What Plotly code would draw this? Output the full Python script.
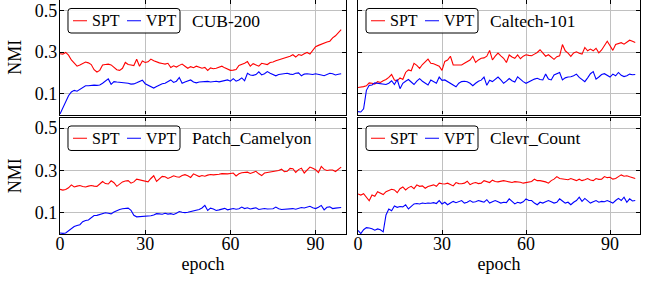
import plotly.graph_objects as go

epochs = list(range(100))

datasets = ["CUB-200", "Caltech-101", "Patch_Camelyon", "Clevr_Count"]
series_names = ["SPT", "VPT"]

cub_spt = [0.292, 0.290, 0.298, 0.285, 0.262, 0.245, 0.232, 0.238, 0.245, 0.252,
           0.248, 0.240, 0.215, 0.204, 0.212, 0.238, 0.240, 0.242, 0.238, 0.228,
           0.215, 0.212, 0.222, 0.250, 0.240, 0.238, 0.235, 0.265, 0.232, 0.257,
           0.250, 0.253, 0.266, 0.258, 0.252, 0.248, 0.245, 0.242, 0.246, 0.226,
           0.234, 0.228, 0.236, 0.242, 0.232, 0.222, 0.230, 0.225, 0.232, 0.228,
           0.222, 0.226, 0.212, 0.224, 0.220, 0.222, 0.226, 0.232, 0.224, 0.216,
           0.212, 0.213, 0.216, 0.236, 0.240, 0.246, 0.254, 0.232, 0.244, 0.238,
           0.232, 0.246, 0.242, 0.240, 0.250, 0.252, 0.258, 0.262, 0.266, 0.270,
           0.274, 0.280, 0.287, 0.276, 0.288, 0.284, 0.292, 0.298, 0.290, 0.310,
           0.326, 0.332, 0.338, 0.342, 0.348, 0.352, 0.368, 0.378, 0.395, 0.408]
cub_vpt = [0.002, 0.030, 0.062, 0.090, 0.108, 0.116, 0.112, 0.120, 0.132, 0.138,
           0.138, 0.140, 0.141, 0.140, 0.142, 0.150, 0.162, 0.171, 0.145, 0.158,
           0.156, 0.155, 0.154, 0.153, 0.150, 0.146, 0.147, 0.152, 0.158, 0.165,
           0.148, 0.140, 0.134, 0.127, 0.134, 0.140, 0.148, 0.150, 0.160, 0.166,
           0.154, 0.160, 0.178, 0.150, 0.156, 0.160, 0.166, 0.156, 0.152, 0.156,
           0.158, 0.157, 0.159, 0.156, 0.158, 0.160, 0.157, 0.159, 0.162, 0.166,
           0.160, 0.172, 0.160, 0.166, 0.176, 0.162, 0.198, 0.190, 0.188, 0.192,
           0.205, 0.190, 0.196, 0.206, 0.198, 0.190, 0.186, 0.192, 0.194, 0.196,
           0.198, 0.194, 0.192, 0.198, 0.200, 0.186, 0.194, 0.196, 0.194, 0.192,
           0.196, 0.194, 0.190, 0.186, 0.194, 0.198, 0.196, 0.190, 0.193, 0.196]
caltech_spt = [0.130, 0.131, 0.134, 0.138, 0.152, 0.150, 0.146, 0.158, 0.154, 0.162,
               0.168, 0.178, 0.192, 0.166, 0.162, 0.176, 0.168, 0.202, 0.214, 0.210,
               0.246, 0.236, 0.222, 0.240, 0.252, 0.266, 0.246, 0.244, 0.238, 0.232,
               0.212, 0.255, 0.262, 0.280, 0.238, 0.238, 0.240, 0.238, 0.246, 0.255,
               0.262, 0.280, 0.250, 0.262, 0.270, 0.272, 0.280, 0.308, 0.262, 0.280,
               0.295, 0.282, 0.270, 0.250, 0.286, 0.276, 0.270, 0.286, 0.268, 0.280,
               0.287, 0.284, 0.282, 0.290, 0.298, 0.311, 0.296, 0.280, 0.287, 0.276,
               0.265, 0.278, 0.282, 0.336, 0.306, 0.295, 0.279, 0.296, 0.301, 0.294,
               0.290, 0.322, 0.306, 0.314, 0.306, 0.318, 0.296, 0.310, 0.330, 0.352,
               0.330, 0.308, 0.336, 0.340, 0.345, 0.338, 0.348, 0.357, 0.352, 0.346]
caltech_vpt = [0.014, 0.012, 0.027, 0.116, 0.140, 0.142, 0.152, 0.150, 0.150, 0.146,
               0.144, 0.150, 0.162, 0.144, 0.168, 0.124, 0.150, 0.160, 0.168, 0.156,
               0.144, 0.160, 0.172, 0.160, 0.150, 0.142, 0.166, 0.158, 0.150, 0.180,
               0.164, 0.166, 0.158, 0.146, 0.138, 0.133, 0.150, 0.158, 0.160, 0.157,
               0.150, 0.138, 0.150, 0.160, 0.165, 0.180, 0.140, 0.165, 0.158, 0.170,
               0.180, 0.166, 0.150, 0.160, 0.173, 0.162, 0.156, 0.181, 0.168, 0.158,
               0.150, 0.158, 0.165, 0.170, 0.174, 0.168, 0.166, 0.194, 0.170, 0.166,
               0.190, 0.198, 0.202, 0.166, 0.176, 0.180, 0.181, 0.186, 0.194, 0.178,
               0.166, 0.158, 0.176, 0.196, 0.206, 0.170, 0.180, 0.192, 0.196, 0.188,
               0.180, 0.194, 0.186, 0.202, 0.188, 0.182, 0.186, 0.194, 0.191, 0.192]
patch_spt = [0.211, 0.207, 0.210, 0.218, 0.232, 0.222, 0.226, 0.229, 0.224, 0.222,
             0.226, 0.229, 0.226, 0.225, 0.236, 0.248, 0.238, 0.236, 0.251, 0.242,
             0.225, 0.236, 0.246, 0.250, 0.252, 0.240, 0.246, 0.259, 0.256, 0.252,
             0.250, 0.246, 0.262, 0.275, 0.248, 0.262, 0.272, 0.270, 0.262, 0.268,
             0.275, 0.270, 0.268, 0.276, 0.280, 0.275, 0.267, 0.284, 0.278, 0.271,
             0.276, 0.273, 0.278, 0.281, 0.279, 0.279, 0.282, 0.285, 0.283, 0.284,
             0.286, 0.288, 0.274, 0.284, 0.289, 0.290, 0.292, 0.286, 0.290, 0.296,
             0.284, 0.276, 0.288, 0.290, 0.292, 0.293, 0.296, 0.300, 0.306, 0.294,
             0.296, 0.310, 0.308, 0.291, 0.304, 0.311, 0.288, 0.304, 0.316, 0.310,
             0.303, 0.290, 0.319, 0.305, 0.300, 0.302, 0.302, 0.295, 0.306, 0.316]
patch_vpt = [0.005, 0.003, 0.005, 0.016, 0.025, 0.035, 0.040, 0.044, 0.058, 0.064,
             0.066, 0.078, 0.087, 0.088, 0.091, 0.097, 0.100, 0.098, 0.095, 0.104,
             0.111, 0.116, 0.119, 0.121, 0.122, 0.112, 0.088, 0.081, 0.082, 0.083,
             0.084, 0.084, 0.086, 0.090, 0.096, 0.095, 0.093, 0.098, 0.094, 0.096,
             0.092, 0.098, 0.106, 0.103, 0.101, 0.103, 0.106, 0.110, 0.114, 0.116,
             0.123, 0.135, 0.111, 0.122, 0.118, 0.111, 0.114, 0.118, 0.121, 0.114,
             0.116, 0.120, 0.117, 0.119, 0.127, 0.120, 0.124, 0.118, 0.121, 0.124,
             0.116, 0.119, 0.120, 0.118, 0.117, 0.119, 0.127, 0.119, 0.116, 0.117,
             0.121, 0.122, 0.120, 0.117, 0.120, 0.125, 0.123, 0.126, 0.131, 0.124,
             0.120, 0.126, 0.135, 0.114, 0.126, 0.128, 0.120, 0.122, 0.124, 0.125]
clevr_spt = [0.189, 0.184, 0.190, 0.176, 0.157, 0.184, 0.178, 0.200, 0.192, 0.186,
             0.200, 0.206, 0.211, 0.208, 0.195, 0.214, 0.222, 0.208, 0.219, 0.225,
             0.214, 0.232, 0.225, 0.227, 0.216, 0.224, 0.227, 0.232, 0.225, 0.240,
             0.237, 0.236, 0.240, 0.234, 0.227, 0.243, 0.238, 0.237, 0.240, 0.249,
             0.233, 0.240, 0.243, 0.238, 0.240, 0.252, 0.246, 0.243, 0.254, 0.248,
             0.246, 0.250, 0.252, 0.249, 0.246, 0.243, 0.247, 0.246, 0.244, 0.240,
             0.243, 0.246, 0.248, 0.259, 0.252, 0.252, 0.250, 0.246, 0.240, 0.252,
             0.259, 0.271, 0.262, 0.259, 0.256, 0.256, 0.262, 0.258, 0.252, 0.259,
             0.252, 0.256, 0.262, 0.255, 0.252, 0.262, 0.258, 0.259, 0.271, 0.266,
             0.268, 0.259, 0.262, 0.271, 0.279, 0.273, 0.275, 0.270, 0.265, 0.262]
clevr_vpt = [0.017, 0.002, 0.020, 0.030, 0.028, 0.025, 0.018, 0.024, 0.020, 0.010,
             0.090, 0.118, 0.110, 0.132, 0.126, 0.130, 0.128, 0.138, 0.118, 0.132,
             0.142, 0.144, 0.142, 0.146, 0.144, 0.146, 0.145, 0.148, 0.144, 0.158,
             0.142, 0.150, 0.138, 0.146, 0.154, 0.148, 0.152, 0.158, 0.146, 0.150,
             0.158, 0.150, 0.152, 0.158, 0.154, 0.150, 0.162, 0.146, 0.152, 0.158,
             0.152, 0.146, 0.150, 0.148, 0.166, 0.152, 0.142, 0.150, 0.146, 0.152,
             0.166, 0.158, 0.158, 0.146, 0.138, 0.150, 0.146, 0.152, 0.158, 0.152,
             0.146, 0.150, 0.166, 0.156, 0.146, 0.150, 0.138, 0.150, 0.158, 0.174,
             0.154, 0.168, 0.158, 0.146, 0.152, 0.158, 0.150, 0.154, 0.152, 0.158,
             0.152, 0.146, 0.158, 0.168, 0.158, 0.174, 0.150, 0.166, 0.156, 0.158]

spt_values = [cub_spt, caltech_spt, patch_spt, clevr_spt]
vpt_values = [cub_vpt, caltech_vpt, patch_vpt, clevr_vpt]

x_ticks = [0, 30, 60, 90]
y_ticks = [0.1, 0.3, 0.5]
y_tick_labels = ["0.1", "0.3", "0.5"]

# ---- layout geometry (pixels) ----
W, H = 646, 281
ML, MR, MT, MB = 60, 6, 0, 47
PW, PH = W - ML - MR, H - MT - MB
cols_px = [(60, 346), (358, 640)]      # panel left/right (px)
rows_px = [(0, 114.5), (117.5, 234)]   # panel top/bottom (px)

def px2paper_x(px):
    return (px - ML) / PW

def px2paper_y(py):
    return (H - MB - py) / PH

FONT = "Liberation Serif"
RED = "#ff0000"
BLUE = "#0000ff"

fig = go.Figure()

axis_ids = [("x", "y"), ("x2", "y2"), ("x3", "y3"), ("x4", "y4")]
panels = [(0, 0), (0, 1), (1, 0), (1, 1)]

shapes = []
annotations = []

for i, ((r, c), (xa, ya)) in enumerate(zip(panels, axis_ids)):
    fig.add_trace(go.Scatter(x=epochs, y=spt_values[i], mode="lines", name=series_names[0],
                             line=dict(color=RED, width=1.1), xaxis=xa, yaxis=ya, showlegend=False))
    fig.add_trace(go.Scatter(x=epochs, y=vpt_values[i], mode="lines", name=series_names[1],
                             line=dict(color=BLUE, width=1.1), xaxis=xa, yaxis=ya, showlegend=False))

    x0p, x1p = cols_px[c]
    y0p, y1p = rows_px[r]
    xdom = [px2paper_x(x0p), px2paper_x(x1p)]
    ydom = [px2paper_y(y1p), px2paper_y(y0p)]

    xname = "xaxis" if i == 0 else f"xaxis{i+1}"
    yname = "yaxis" if i == 0 else f"yaxis{i+1}"
    common = dict(showgrid=True, gridcolor="#c0c0c0", gridwidth=1.2,
                  showline=True, linecolor="black", linewidth=1.2, mirror="ticks",
                  ticks="inside", ticklen=3.5, tickcolor="black", tickwidth=1,
                  zeroline=False, tickfont=dict(family=FONT, size=18, color="black"))
    fig.layout[xname] = dict(domain=xdom, range=[0, 100.7], tickvals=x_ticks,
                             showticklabels=(r == 1), ticklabelstandoff=-7,
                             title=dict(text="epoch" if r == 1 else "", standoff=3,
                                        font=dict(family=FONT, size=18, color="black")),
                             anchor=ya, **common)
    fig.layout[yname] = dict(domain=ydom, range=[0, 0.55], tickvals=y_ticks,
                             ticktext=y_tick_labels, showticklabels=(c == 0),
                             ticklabelstandoff=-2,
                             title=dict(text="NMI" if c == 0 else "", standoff=8,
                                        font=dict(family=FONT, size=18, color="black")),
                             anchor=xa, **common)

    # custom legend box (rounded)
    bx0, by0 = x0p + 8, y0p + 8.5
    bx1, by1 = bx0 + 112, by0 + 24.5
    rad = 3
    def P(x, y):
        return f"{px2paper_x(x):.5f},{px2paper_y(y):.5f}"
    path = (f"M{P(bx0+rad, by0)} L{P(bx1-rad, by0)} Q{P(bx1, by0)} {P(bx1, by0+rad)} "
            f"L{P(bx1, by1-rad)} Q{P(bx1, by1)} {P(bx1-rad, by1)} "
            f"L{P(bx0+rad, by1)} Q{P(bx0, by1)} {P(bx0, by1-rad)} "
            f"L{P(bx0, by0+rad)} Q{P(bx0, by0)} {P(bx0+rad, by0)} Z")
    shapes.append(dict(type="path", path=path, xref="paper", yref="paper",
                       line=dict(color="black", width=1), fillcolor="rgba(255,255,255,0.85)",
                       layer="above"))
    cy = (by0 + by1) / 2
    for (lx0, lx1, tx, name, col) in [(5, 19, 22, series_names[0], RED),
                                       (59, 73, 76, series_names[1], BLUE)]:
        shapes.append(dict(type="line", xref="paper", yref="paper",
                           x0=px2paper_x(bx0 + lx0), x1=px2paper_x(bx0 + lx1),
                           y0=px2paper_y(cy), y1=px2paper_y(cy),
                           line=dict(color=col, width=1), layer="above"))
        annotations.append(dict(text=name, xref="paper", yref="paper",
                                x=px2paper_x(bx0 + tx), y=px2paper_y(cy),
                                xanchor="left", yanchor="middle", showarrow=False,
                                font=dict(family=FONT, size=16, color="black")))
    annotations.append(dict(text=datasets[i], xref="paper", yref="paper",
                            x=px2paper_x(x0p + 130), y=px2paper_y(cy),
                            xanchor="left", yanchor="middle", showarrow=False,
                            font=dict(family=FONT, size=17.5, color="black")))

fig.update_layout(width=W, height=H, margin=dict(l=ML, r=MR, t=MT, b=MB),
                  paper_bgcolor="white", plot_bgcolor="white",
                  shapes=shapes, annotations=annotations, showlegend=False,
                  font=dict(family=FONT, color="black"))

fig.write_html("out.html", config={"displayModeBar": False},
               post_script="document.body.style.margin='0px';")
